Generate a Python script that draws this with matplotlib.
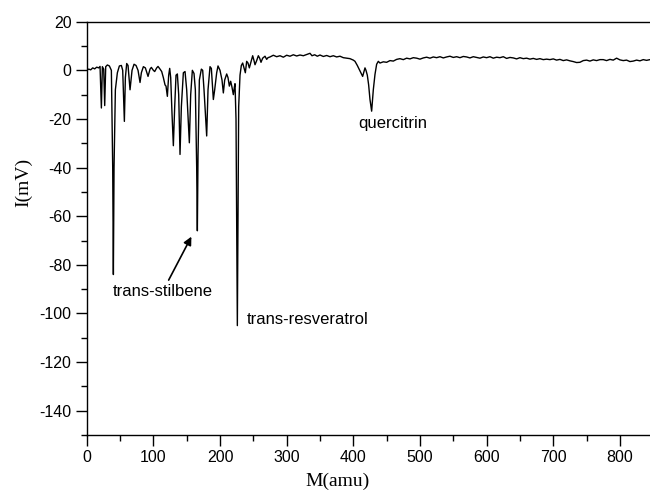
import matplotlib
matplotlib.use("Agg")
import matplotlib.pyplot as plt

plt.rcParams["axes.unicode_minus"] = False

# spectrum: mass (amu) and signal (mV)
mass = [0, 3, 6, 9, 12, 15, 18, 20, 22, 23.5, 25.5, 27, 28.5, 31, 34, 37,
        39, 40, 41, 43, 46, 49, 52, 54, 56.5, 58, 60, 62, 65, 68, 71, 74,
        77, 80, 82, 85, 88, 92, 95, 97, 100, 102, 105, 107, 110, 112.5, 115,
        117.5, 119, 121, 123, 124.5, 126, 128, 130, 132, 134, 136, 138, 140,
        142, 145, 147.5, 150, 154, 156, 158.5, 161, 163, 165, 166, 167, 169,
        172, 174, 176, 180, 182, 185, 187, 190, 192, 195, 197, 200, 203, 205,
        207, 210, 212, 214, 216, 218, 220, 221.5, 222.5, 224, 225, 226, 227,
        228, 230, 232, 234, 236, 238, 240, 242, 244, 246, 249, 251, 252.5,
        255, 257.5, 259.5, 261.5, 264, 267.5, 270, 272, 275,
        280, 285, 290, 295, 300, 305, 310, 315, 320, 325, 330, 335, 338, 342,
        346, 350, 355, 360, 365, 370, 375, 380, 385, 390, 395, 400, 402.5,
        406, 409, 412, 414, 416, 417.5, 419, 421, 423, 425, 427.5, 430, 432.5,
        435, 437.5, 440, 445, 450, 455, 460, 465, 470, 475, 480, 485, 490,
        495, 500, 505, 510, 515, 520, 525, 530, 535, 540, 545, 550, 555, 560,
        565, 570, 575, 580, 585, 590, 595, 600, 605, 610, 615, 620, 625, 630,
        635, 640, 645, 650, 655, 660, 665, 670, 675, 680, 685, 690, 695, 700,
        705, 710, 715, 720, 725, 730, 735, 740, 745, 750, 755, 760, 765, 770,
        775, 780, 785, 790, 795, 800, 805, 810, 815, 820, 825, 830, 835, 840,
        845, 850]
signal = [0, 0.5, 0.2, 1.0, 0.6, 1.3, 1.0, 1.6, -15.5, 1.5, 0.5, -14.5, 1.5,
          2.2, 1.8, 0, -40, -84, -40, -8, -1, 1.8, 2, 0, -21, -3, 2.8, 2, -8,
          0, 2.5, 2, 0, -5, -1, 1.5, 1, -2.5, 0.5, 1.2, 0, -0.5, 1, 1.6, 0.5,
          -0.5, -3, -6, -6.5, -10.7, -2, 0.8, -3, -18, -31, -15, -2, -1.5,
          -10, -34.6, -15, -1, -0.5, -8, -29.8, -10, 0, -1.3, -8, -40, -66,
          -35, -4, 0.5, 0, -8, -27, -8, 1.5, 0.8, -12, -8, -1, 1.8, 0, -4,
          -9.3, -4, -1.5, -3, -6.5, -4.5, -7, -10, -7, -5.5, -20, -60, -105,
          -60, -15, -2, 2, 3, 1, -1, 3.7, 3, 1, 3, 6, 4, 2.3, 4, 6, 5, 3.3,
          5, 5.8, 4.5, 5.2, 5.5,
          6.2, 5.6, 6.0, 5.4, 6.2, 5.8, 6.4, 5.9, 6.3, 6.0, 6.5, 7.0, 6.0,
          6.4, 5.8, 6.3, 5.7, 6.1, 5.6, 6.0, 5.5, 5.8, 5.2, 5.0, 4.8, 4.2,
          3.7, 2.0, 0.3, -1.5, -2.5, -0.5, 1, 0, -2, -6, -12, -16.8, -8, -1.7,
          2.5, 3.7, 3.0, 3.5, 3.3, 4.0, 3.8, 4.5, 4.8, 4.4, 5.0, 4.7, 5.2,
          5.0, 4.6, 5.1, 5.4, 5.0, 5.5, 5.2, 5.6, 5.1, 5.5, 5.8, 5.3, 5.6,
          5.2, 5.7, 5.5, 5.1, 5.6, 5.3, 5.0, 5.5, 5.2, 5.6, 5.0, 5.4, 5.2,
          5.6, 4.9, 5.3, 5.1, 4.7, 5.2, 4.8, 5.0, 4.6, 4.9, 4.5, 4.8, 4.4,
          4.6, 4.4, 4.7, 4.2, 4.5, 4.0, 4.3, 3.9, 3.6, 3.2, 3.3, 4.0, 4.2,
          3.8, 4.3, 4.0, 4.4, 4.4, 4.0, 4.5, 4.2, 5.0, 4.3, 4.0, 4.2, 3.6,
          3.8, 4.2, 3.9, 4.4, 4.1, 4.4, 4.2]

x_ticks = [0, 100, 200, 300, 400, 500, 600, 700, 800]
y_ticks = [20, 0, -20, -40, -60, -80, -100, -120, -140]

sans = ["Liberation Sans", "DejaVu Sans"]
serif = ["Liberation Serif", "DejaVu Serif"]

fig = plt.figure(figsize=(6.5, 5), dpi=100)
ax = fig.add_axes([0.1334, 0.13, 0.8716, 0.8266])

ax.plot(mass, signal, color="black", lw=1.0)

ax.set_xlim(0, 850)
ax.set_ylim(-150, 20)
ax.set_xticks(x_ticks)
ax.set_yticks(y_ticks)
ax.set_xticks(range(50, 850, 100), minor=True)
ax.set_yticks(range(-150, 20, 20), minor=True)

ax.spines["right"].set_visible(False)
for s in ["left", "bottom", "top"]:
    ax.spines[s].set_linewidth(1.0)

ax.tick_params(which="major", direction="out", length=8, width=1.0, pad=3)
ax.tick_params(which="minor", direction="out", length=4, width=1.0)

for lab in ax.get_xticklabels() + ax.get_yticklabels():
    lab.set_family(sans)
    lab.set_fontsize(11.5)

ax.set_xlabel("M(amu)", family=serif, fontsize=14)
ax.set_ylabel("I(mV)", family=serif, fontsize=14)
ax.xaxis.set_label_coords(0.442, -0.092)
ax.yaxis.set_label_coords(-0.0965, 0.61)

ax.text(39.5, -90.8, "trans-stilbene", family=sans, fontsize=12,
        va="center", ha="left")
ax.annotate("", xy=(159, -67.4), xytext=(121, -87.3),
            arrowprops=dict(arrowstyle="-|>", color="black", lw=1.2,
                            mutation_scale=12))
ax.text(240, -102.3, "trans-resveratrol", family=sans, fontsize=12,
        va="center", ha="left")
ax.text(407, -21.9, "quercitrin", family=sans, fontsize=12,
        va="center", ha="left")

fig.savefig("out.png", dpi=100)
